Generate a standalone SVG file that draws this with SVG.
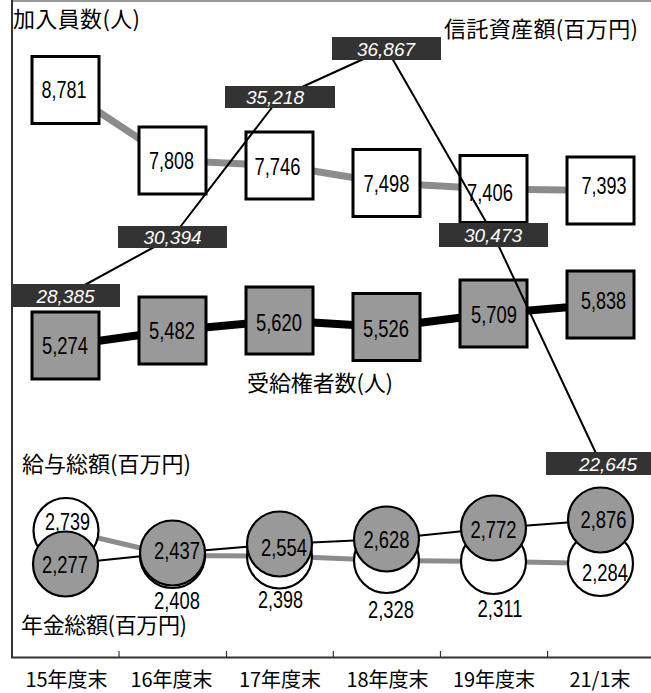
<svg xmlns="http://www.w3.org/2000/svg" width="651" height="693" viewBox="0 0 651 693">
<style>
.num{font-family:"Liberation Sans",Arial,sans-serif;font-size:23px;text-anchor:middle;fill:#000}
.lbl{font-family:"Liberation Sans",Arial,sans-serif;font-style:italic;font-size:19px;text-anchor:middle;fill:#fff}
.ttl{font-family:"Noto Sans CJK JP","Noto Sans CJK SC",sans-serif;font-size:22px;fill:#000}
.ax{font-family:"Noto Sans CJK JP","Noto Sans CJK SC",sans-serif;font-size:20px;fill:#000;text-anchor:middle}
.wbox{fill:#fff;stroke:#000;stroke-width:3}
.gbox{fill:#999;stroke:#000;stroke-width:3}
.wc{fill:#fff;stroke:#000;stroke-width:2.2}
.gc{fill:#999;stroke:#000;stroke-width:2.2}
.tag{fill:#333}
.ln{fill:none;stroke-linejoin:round}
</style>
<rect width="651" height="693" fill="#fff"/>
<g id="frame">
<line x1="12" y1="1" x2="651" y2="1" stroke="#999" stroke-width="2"/>
<line x1="12" y1="0" x2="12" y2="658" stroke="#333" stroke-width="2"/>
<line x1="11" y1="657.5" x2="651" y2="657.5" stroke="#333" stroke-width="2"/>
<g stroke="#333" stroke-width="1.2">
<line x1="119" y1="651" x2="119" y2="657"/>
<line x1="226.5" y1="651" x2="226.5" y2="657"/>
<line x1="333.3" y1="651" x2="333.3" y2="657"/>
<line x1="440.5" y1="651" x2="440.5" y2="657"/>
<line x1="547.6" y1="651" x2="547.6" y2="657"/>
</g>
</g>
<g id="connectors">
<polyline class="ln" stroke="#8c8c8c" stroke-width="7" points="65.5,90 172.5,160.5 279.5,165.5 386.5,183 493.5,189 600.5,190.5"/>
<polyline class="ln" stroke="#000" stroke-width="8" points="65.5,345.5 172.5,330.5 279.5,320.5 386.5,327 493.5,313.5 600.5,304.5"/>
<polyline class="ln" stroke="#8c8c8c" stroke-width="5" points="66,530.5 172.5,555.5 279.5,556 386.5,560.5 493.5,561.5 600.5,563.5"/>
<polyline class="ln" stroke="#000" stroke-width="2" points="65.5,564 172.5,553 279.5,544 386.5,539 493.5,528 600.5,520"/>
</g>
<g id="members">
<g id="m15"><rect class="wbox" x="32" y="56.5" width="67" height="67"/><text class="num" x="64" y="97.5" textLength="45" lengthAdjust="spacingAndGlyphs">8,781</text></g>
<g id="m16"><rect class="wbox" x="139" y="127" width="67" height="67"/><text class="num" x="171.5" y="169" textLength="45" lengthAdjust="spacingAndGlyphs">7,808</text></g>
<g id="m17"><rect class="wbox" x="246" y="132" width="67" height="67"/><text class="num" x="277.5" y="174.5" textLength="46" lengthAdjust="spacingAndGlyphs">7,746</text></g>
<g id="m18"><rect class="wbox" x="353" y="149.5" width="67" height="67"/><text class="num" x="386.5" y="192" textLength="46" lengthAdjust="spacingAndGlyphs">7,498</text></g>
<g id="m19"><rect class="wbox" x="460" y="155.5" width="67" height="67"/><text class="num" x="490" y="200.5" textLength="46" lengthAdjust="spacingAndGlyphs">7,406</text></g>
<g id="m21"><rect class="wbox" x="567" y="157" width="67" height="67"/><text class="num" x="604" y="193.5" textLength="45" lengthAdjust="spacingAndGlyphs">7,393</text></g>
</g>
<g id="beneficiaries">
<g id="b15"><rect class="gbox" x="32" y="312" width="67" height="67"/><text class="num" x="65" y="353.5" textLength="46" lengthAdjust="spacingAndGlyphs">5,274</text></g>
<g id="b16"><rect class="gbox" x="139" y="297" width="67" height="67"/><text class="num" x="172" y="338.5" textLength="46" lengthAdjust="spacingAndGlyphs">5,482</text></g>
<g id="b17"><rect class="gbox" x="246" y="287" width="67" height="67"/><text class="num" x="279" y="330.5" textLength="46" lengthAdjust="spacingAndGlyphs">5,620</text></g>
<g id="b18"><rect class="gbox" x="353" y="293.5" width="67" height="67"/><text class="num" x="386" y="337" textLength="46" lengthAdjust="spacingAndGlyphs">5,526</text></g>
<g id="b19"><rect class="gbox" x="460" y="280" width="67" height="67"/><text class="num" x="494" y="322.5" textLength="46" lengthAdjust="spacingAndGlyphs">5,709</text></g>
<g id="b21"><rect class="gbox" x="567" y="271" width="67" height="67"/><text class="num" x="603.5" y="308.5" textLength="45" lengthAdjust="spacingAndGlyphs">5,838</text></g>
</g>
<g id="pensions">
<g id="p15"><circle class="wc" cx="66" cy="530.5" r="32.5"/></g>
<g id="p16"><circle class="wc" cx="172.5" cy="555.5" r="32.5"/></g>
<g id="p17"><circle class="wc" cx="279.5" cy="556" r="32.5"/></g>
<g id="p18"><circle class="wc" cx="386.5" cy="560.5" r="32.5"/></g>
<g id="p19"><circle class="wc" cx="493.5" cy="561.5" r="32.5"/></g>
<g id="p21"><circle class="wc" cx="600.5" cy="563.5" r="32.5"/></g>
</g>
<g id="salaries">
<g id="s15"><circle class="gc" cx="65.5" cy="564" r="32.5"/></g>
<g id="s16"><circle class="gc" cx="172.5" cy="553" r="32.5"/></g>
<g id="s17"><circle class="gc" cx="279.5" cy="544" r="32.5"/></g>
<g id="s18"><circle class="gc" cx="386.5" cy="539" r="32.5"/></g>
<g id="s19"><circle class="gc" cx="493.5" cy="528" r="32.5"/></g>
<g id="s21"><circle class="gc" cx="600.5" cy="520" r="32.5"/></g>
</g>
<g id="circle-values">
<text class="num" x="67.5" y="529.5" textLength="45" lengthAdjust="spacingAndGlyphs">2,739</text>
<text class="num" x="65" y="573" textLength="46" lengthAdjust="spacingAndGlyphs">2,277</text>
<text class="num" x="177" y="558.5" textLength="46" lengthAdjust="spacingAndGlyphs">2,437</text>
<text class="num" x="177" y="609" textLength="46" lengthAdjust="spacingAndGlyphs">2,408</text>
<text class="num" x="284" y="555.5" textLength="46" lengthAdjust="spacingAndGlyphs">2,554</text>
<text class="num" x="280.5" y="608" textLength="45" lengthAdjust="spacingAndGlyphs">2,398</text>
<text class="num" x="386.5" y="547.5" textLength="46" lengthAdjust="spacingAndGlyphs">2,628</text>
<text class="num" x="391" y="617.5" textLength="46" lengthAdjust="spacingAndGlyphs">2,328</text>
<text class="num" x="493.5" y="537.5" textLength="46" lengthAdjust="spacingAndGlyphs">2,772</text>
<text class="num" x="500" y="617" textLength="45" lengthAdjust="spacingAndGlyphs">2,311</text>
<text class="num" x="603.5" y="528" textLength="46" lengthAdjust="spacingAndGlyphs">2,876</text>
<text class="num" x="605" y="580.5" textLength="46" lengthAdjust="spacingAndGlyphs">2,284</text>
</g>
<g id="connectors-trust">
<polyline class="ln" stroke="#000" stroke-width="2" points="65.5,295.5 172.5,237 280,97 386.5,48.5 493.5,235 601,464"/>
</g>
<g id="trust">
<g id="t15"><rect class="tag" x="11" y="284" width="109" height="23"/><text class="lbl" x="65.5" y="303">28,385</text></g>
<g id="t16"><rect class="tag" x="118" y="226" width="109" height="22"/><text class="lbl" x="172.5" y="244">30,394</text></g>
<g id="t17"><rect class="tag" x="225" y="86" width="110" height="22"/><text class="lbl" x="275" y="104">35,218</text></g>
<g id="t18"><rect class="tag" x="332" y="37" width="109" height="23"/><text class="lbl" x="386" y="56">36,867</text></g>
<g id="t19"><rect class="tag" x="439" y="223" width="109" height="24"/><text class="lbl" x="493" y="242">30,473</text></g>
<g id="t21"><rect class="tag" x="546" y="452" width="110" height="23"/><text class="lbl" x="608" y="471">22,645</text></g>
</g>
<g id="titles">
<text class="ttl" x="13" y="27" textLength="127">加入員数(人)</text>
<text class="ttl" x="444" y="36.5" textLength="194">信託資産額(百万円)</text>
<text class="ttl" x="247" y="390.5" textLength="146">受給権者数(人)</text>
<text class="ttl" x="22" y="472" textLength="169">給与総額(百万円)</text>
<text class="ttl" x="21" y="633" textLength="166">年金総額(百万円)</text>
</g>
<g id="axis-labels">
<text class="ax" x="66.5" y="687">15年度末</text>
<text class="ax" x="171.5" y="687">16年度末</text>
<text class="ax" x="280" y="687">17年度末</text>
<text class="ax" x="387.5" y="687">18年度末</text>
<text class="ax" x="494" y="687">19年度末</text>
<text class="ax" x="600" y="687">21/1末</text>
</g>
</svg>
